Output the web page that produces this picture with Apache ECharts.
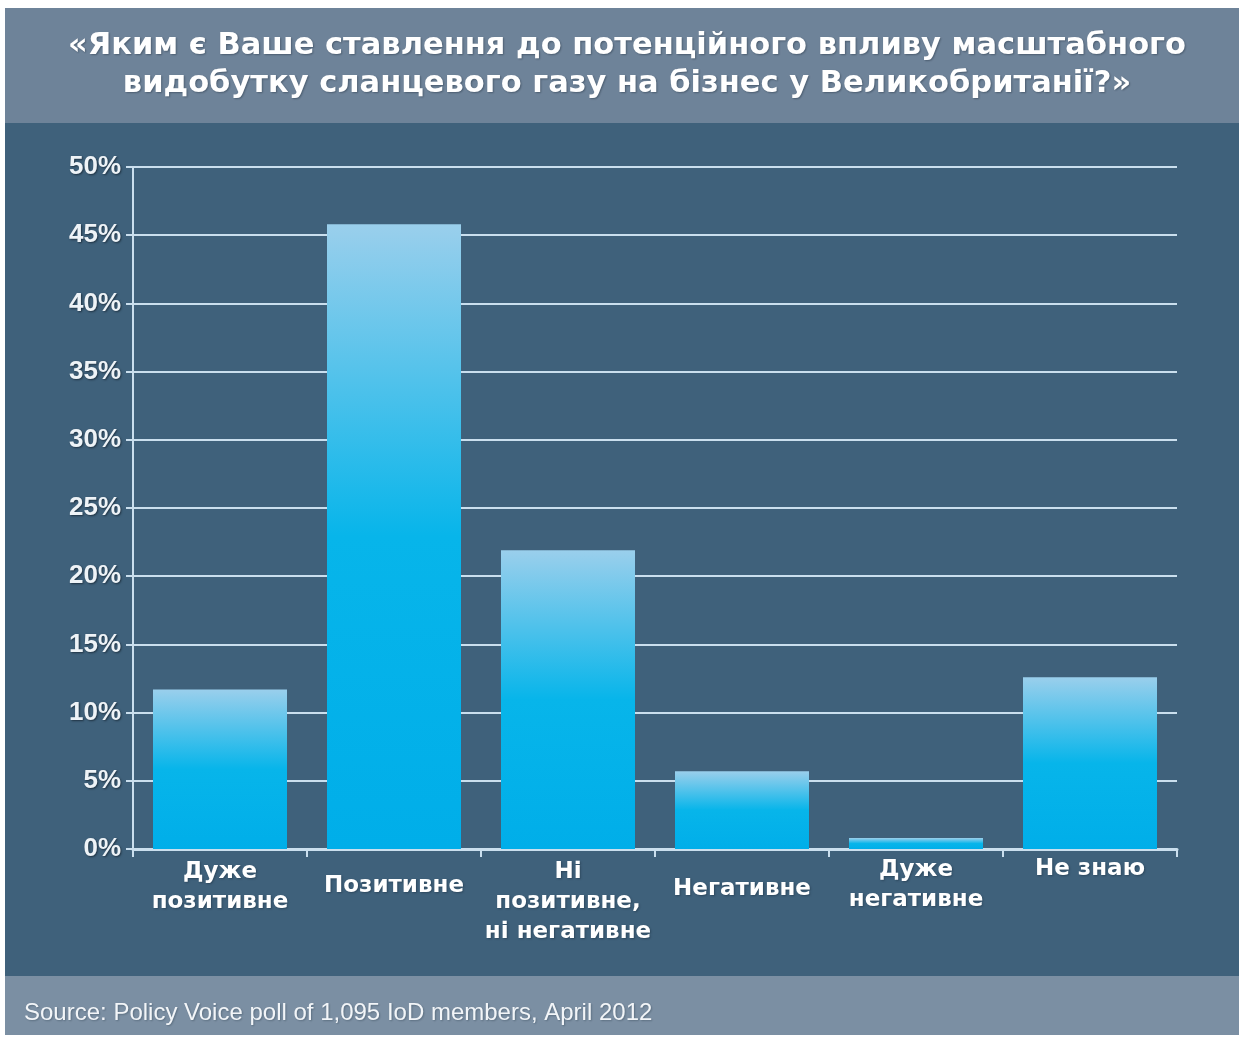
<!DOCTYPE html>
<html>
<head>
<meta charset="utf-8">
<script src="https://cdn.jsdelivr.net/npm/echarts@6/dist/echarts.min.js"></script>
<style>
  html, body { margin: 0; padding: 0; background: #ffffff; }
  #chart { width: 1239px; height: 1039px; }
</style>
</head>
<body>
<div id="chart"></div>
<script>
// Survey answers (share of respondents, %)
const categories = [
  'Дуже\nпозитивне',
  'Позитивне',
  'Ні\nпозитивне,\nні негативне',
  'Негативне',
  'Дуже\nнегативне',
  'Не знаю'
];
const shares = [11.7, 45.8, 21.9, 5.7, 0.8, 12.6];
const yTicks = [0, 5, 10, 15, 20, 25, 30, 35, 40, 45, 50];

const titleText = '«Яким є Ваше ставлення до потенційного впливу масштабного\nвидобутку сланцевого газу на бізнес у Великобританії?»';
const sourceText = 'Source: Policy Voice poll of 1,095 IoD members, April 2012';

// vertical nudges for individual category labels
const labelPad = [0, 14, 0, 17, -2, -3];

const chart = echarts.init(document.getElementById('chart'), null, { renderer: 'canvas' });

const lineColor = '#cadfee';

const option = {
  animation: false,
  backgroundColor: '#ffffff',
  title: {
    text: titleText,
    left: 622,
    top: 22,
    textAlign: 'center',
    textStyle: {
      color: '#ffffff',
      fontFamily: 'DejaVu Sans',
      fontWeight: 'bold',
      fontSize: 30.5,
      lineHeight: 38,
      textShadowColor: 'rgba(30,45,60,0.45)',
      textShadowBlur: 2,
      textShadowOffsetX: 1,
      textShadowOffsetY: 1
    }
  },
  graphic: [
    { type: 'rect', z: -100, shape: { x: 5, y: 8, width: 1234, height: 116 }, style: { fill: '#6e8399' } },
    { type: 'rect', z: -100, shape: { x: 5, y: 123, width: 1234, height: 853 }, style: { fill: '#3f617b' } },
    { type: 'rect', z: -100, shape: { x: 5, y: 976, width: 1234, height: 59 }, style: { fill: '#7b8fa3' } },
    {
      type: 'text', z: 10, x: 24, y: 1013,
      style: {
        text: sourceText,
        fill: '#f2f5f8',
        font: '24px "Liberation Sans Narrow", "Liberation Sans", sans-serif',
        textVerticalAlign: 'middle',
        textShadowColor: 'rgba(30,45,60,0.35)',
        textShadowBlur: 2,
        textShadowOffsetX: 1,
        textShadowOffsetY: 1
      }
    }
  ],
  grid: { left: 133, right: 62, top: 167, bottom: 190, containLabel: false },
  xAxis: {
    type: 'category',
    data: categories.map((c, i) => ({ value: c, textStyle: { padding: [labelPad[i], 0, 0, 0] } })),
    axisLine: { show: true, lineStyle: { color: lineColor, width: 3 } },
    axisTick: { show: true, inside: false, length: 8, lineStyle: { color: lineColor, width: 2 } },
    axisLabel: {
      interval: 0,
      margin: 8,
      color: '#ffffff',
      fontFamily: 'DejaVu Sans',
      fontWeight: 'bold',
      fontSize: 23,
      lineHeight: 30,
      textShadowColor: 'rgba(20,35,50,0.4)',
      textShadowBlur: 2,
      textShadowOffsetX: 1,
      textShadowOffsetY: 1
    },
    splitLine: { show: false }
  },
  yAxis: {
    type: 'value',
    min: yTicks[0],
    max: yTicks[yTicks.length - 1],
    interval: yTicks[1] - yTicks[0],
    axisLine: { show: true, lineStyle: { color: lineColor, width: 2 } },
    axisTick: { show: true, length: 7, lineStyle: { color: lineColor, width: 2 } },
    axisLabel: {
      margin: 12,
      formatter: '{value}%',
      color: '#eef3f7',
      fontFamily: '"Liberation Sans Narrow", "Liberation Sans", sans-serif',
      fontWeight: 'bold',
      fontSize: 26,
      textShadowColor: 'rgba(10,20,30,0.6)',
      textShadowBlur: 2,
      textShadowOffsetX: 1,
      textShadowOffsetY: 1
    },
    splitLine: { show: true, lineStyle: { color: lineColor, width: 2 } }
  },
  series: [{
    type: 'bar',
    data: shares,
    barWidth: 134,
    itemStyle: {
      color: new echarts.graphic.LinearGradient(0, 0, 0, 1, [
        { offset: 0, color: '#9acfec' },
        { offset: 0.5, color: '#07b5ea' },
        { offset: 1, color: '#00aee9' }
      ])
    },
    label: { show: false }
  }]
};

chart.setOption(option);
</script>
</body>
</html>
